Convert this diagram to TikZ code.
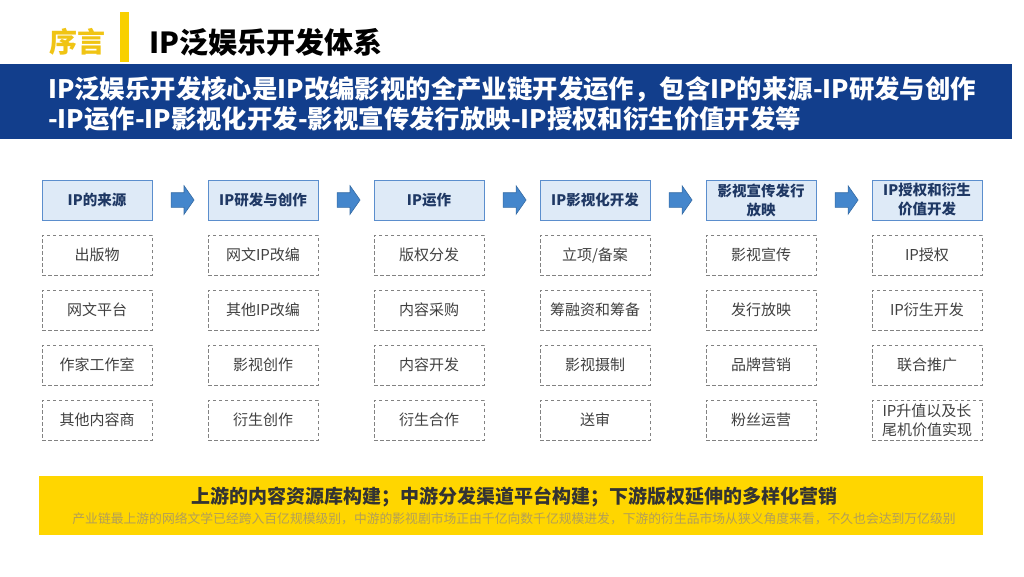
\documentclass[tikz,border=0pt]{standalone}
\usepackage{fontspec}
\setmainfont{Noto Sans CJK SC}
\usepackage{xcolor}
\usetikzlibrary{shapes,shapes.arrows,positioning,calc}
\definecolor{bandblue}{RGB}{18,62,140}
\definecolor{headfill}{RGB}{222,234,247}
\definecolor{headline}{RGB}{91,142,205}
\definecolor{headtext}{RGB}{31,56,100}
\definecolor{itemline}{RGB}{130,130,130}
\definecolor{itemtext}{RGB}{64,64,64}
\definecolor{arrowblue}{RGB}{68,134,204}
\definecolor{titleyellow}{RGB}{240,196,20}
\definecolor{baryellow}{RGB}{248,208,0}
\definecolor{boxyellow}{RGB}{255,214,0}
\definecolor{notetext}{RGB}{178,158,88}

\begin{document}
\begin{tikzpicture}[x=1pt, y=-1pt,
    headbox/.style={rectangle, draw=headline, line width=1pt, fill=headfill, minimum width=110pt, minimum height=40pt, inner sep=2pt, align=center, text=headtext, font=\fontsize{14.5}{19}\selectfont\bfseries},
    itembox/.style={rectangle, draw=itemline, dashed, dash pattern=on 3.5pt off 2.5pt, line width=0.9pt, minimum width=110pt, minimum height=40pt, inner sep=2pt, align=center, text=itemtext, font=\fontsize{15}{19}\selectfont},
    blockarrow/.style={single arrow, draw=arrowblue!80!black, fill=arrowblue, line width=0.6pt, minimum height=23pt, single arrow head extend=7pt, single arrow tip angle=110, inner xsep=0pt, inner ysep=7pt},
]
    \useasboundingbox (0,0) rectangle (1024,576);

    % title line
    \node[text=titleyellow, font=\fontsize{28}{32}\selectfont\bfseries] (pref) at (77,42) {序言};
    \fill[baryellow] (120,12) rectangle (129,62);
    \node[anchor=west, font=\fontsize{29}{33}\selectfont\bfseries] (title) at (146,42) {IP泛娱乐开发体系};

    % blue band
    \fill[bandblue] (0,64) rectangle (1012,139);
    \node[anchor=west, align=left, text=white, inner sep=0pt, font=\fontsize{25.4}{30}\selectfont\bfseries] (summary) at (48,104)
        {IP泛娱乐开发核心是IP改编影视的全产业链开发运作，包含IP的来源-IP研发与创作\\-IP运作-IP影视化开发-影视宣传发行放映-IP授权和衍生价值开发等};

    % stage headers
    \foreach \t [count=\c] in {IP的来源, IP研发与创作, IP运作, IP影视化开发, {影视宣传发行\\放映}, {IP授权和衍生\\价值开发}} {
        \node[headbox] (h\c) at ({97+166*(\c-1)}, 200) {\t};
    }
    \foreach \c [evaluate=\c as \n using int(\c+1)] in {1,...,5} {
        \node[blockarrow] (arr\c) at ($(h\c.east)!0.5!(h\n.west)$) {};
    }

    % items under each stage
    \foreach \c/\items in {
        1/{出版物,网文平台,作家工作室,其他内容商},
        2/{网文IP改编,其他IP改编,影视创作,衍生创作},
        3/{版权分发,内容采购,内容开发,衍生合作},
        4/{立项/备案,筹融资和筹备,影视摄制,送审},
        5/{影视宣传,发行放映,品牌营销,粉丝运营},
        6/{IP授权,IP衍生开发,联合推广,{IP升值以及长\\尾机价值实现}}} {
        \foreach \t [count=\r] in \items {
            \node[itembox] (i\c-\r) at ({97+166*(\c-1)}, {255+55*(\r-1)}) {\t};
        }
    }

    % yellow footer
    \fill[boxyellow] (39,476) rectangle (983,535);
    \node[text=black!80, font=\fontsize{19}{22}\selectfont\bfseries] (keynote) at (514,497)
        {上游的内容资源库构建；中游分发渠道平台构建；下游版权延伸的多样化营销};
    \node[text=notetext, font=\fontsize{12.8}{15}\selectfont] (detail) at (514,519)
        {产业链最上游的网络文学已经跨入百亿规模级别，中游的影视剧市场正由千亿向数千亿规模进发，下游的衍生品市场从狭义角度来看，不久也会达到万亿级别};
\end{tikzpicture}
\end{document}
